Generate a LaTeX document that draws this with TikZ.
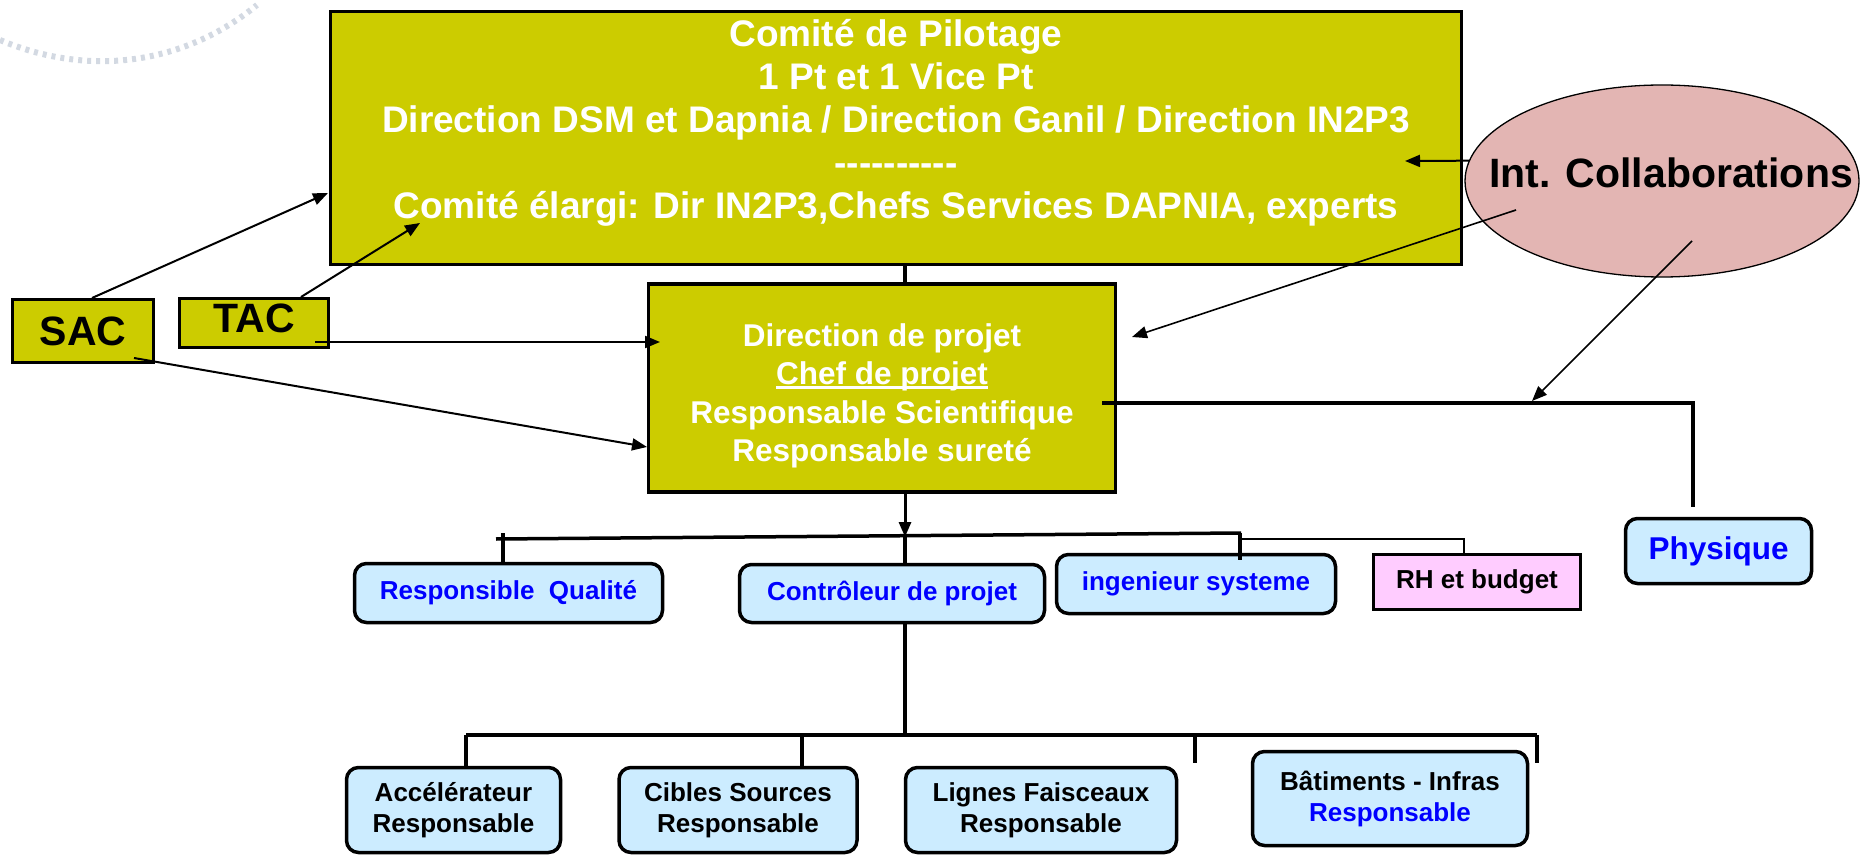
\documentclass[tikz,border=0pt]{standalone}
\usepackage{fontspec}
\setmainfont{Liberation Sans}
\usetikzlibrary{arrows.meta,shapes.geometric}
\definecolor{olivey}{HTML}{CCCC00}
\definecolor{lblue}{HTML}{CCECFF}
\definecolor{pinkbox}{HTML}{FFCCFF}
\definecolor{ellcol}{HTML}{E3B5B3}
\definecolor{textblue}{HTML}{0000FF}
\definecolor{swirl}{HTML}{D3D9E2}
\newcommand{\fsz}[2]{\fontsize{#1}{#2}\selectfont\bfseries}
\newcommand{\hy}{-\kern0pt}
\newcommand{\myul}[1]{\setbox0\hbox{#1}\rlap{\rule[-4pt]{\wd0}{2.5pt}}\box0}
\tikzset{
  olivebox/.style={draw=black, line width=3.5pt, fill=olivey, inner sep=0pt},
  smallbox/.style={draw=black, line width=3pt, fill=olivey, inner sep=0pt, text=black, font=\fsz{41}{45}},
  bluebox/.style={draw=black, line width=3.5pt, rounded corners=12pt, fill=lblue, inner sep=0pt, align=center, text=textblue, font=\fsz{26}{31}},
  blackbluebox/.style={bluebox, text=black},
  arr/.style={-{Triangle[length=15pt,width=12pt]}, line width=2pt},
  orgline/.style={line width=3.5pt},
  thinline/.style={line width=1.6pt},
}
\begin{document}
\begin{tikzpicture}[x=1pt,y=-1pt]
\useasboundingbox (0,0) rectangle (1862,858);
% faint background swirl
\draw[swirl, line width=6pt, dash pattern=on 4pt off 5pt] (0,40) .. controls (90,78) and (185,64) .. (257,5);

% top committee box
\node[olivebox, minimum width=1131pt, minimum height=253pt] (com) at (896,138) {};
\node[align=center, text=white, font=\fsz{37}{43}] (comtxt) at (896,123)
  {Comité de Pilotage\\1 Pt et 1 Vice Pt\\Direction DSM et Dapnia / Direction Ganil / Direction IN2P3\\\hy\hy\hy\hy\hy\hy\hy\hy\hy\hy\\Comité élargi: Dir IN2P3,Chefs Services DAPNIA, experts};

% international collaborations
\node[draw=black, line width=1.3pt, fill=ellcol, ellipse, minimum width=394pt, minimum height=192pt, inner sep=0pt] (ic) at (1662,181) {};
\node[anchor=base, inner sep=0pt, font=\fsz{41}{45}] (ictxt) at (1671,188) {Int. Collaborations};

% direction box
\node[olivebox, minimum width=467pt, minimum height=208pt, align=center, text=white, font=\fsz{31.5}{38.5}] (dir) at (882,388) {};
\node[align=center, text=white, font=\fsz{31.5}{38.5}] (dirtxt) at (882,396)
  {Direction de projet\\\myul{Chef de projet}\\Responsable Scientifique\\Responsable sureté};

% SAC / TAC
\node[smallbox, minimum width=141pt, minimum height=63pt] (sac) at (83,331) {SAC};
\node[smallbox, minimum width=149pt, minimum height=49pt, text depth=10pt] (tac) at (254,323) {TAC};

% second row
\node[bluebox, minimum width=308pt, minimum height=59pt] (qual) at (508.5,593) {Responsible\ \ Qualité};
\node[bluebox, minimum width=305pt, minimum height=58pt] (ctrl) at (892,593.5) {Contrôleur de projet};
\node[bluebox, minimum width=279pt, minimum height=59pt] (ing) at (1196,584) {ingenieur systeme};
\node[draw=black, line width=3.5pt, fill=pinkbox, inner sep=0pt, minimum width=207pt, minimum height=55pt, font=\fsz{26}{31}] (rh) at (1477,582) {RH et budget};
\node[bluebox, minimum width=186pt, minimum height=65pt, font=\fsz{31.5}{36}] (phys) at (1718.5,551) {Physique};

% bottom row
\node[blackbluebox, minimum width=214pt, minimum height=85pt] (acc) at (453.5,810) {Accélérateur\\Responsable};
\node[blackbluebox, minimum width=238pt, minimum height=85pt] (cib) at (738,810) {Cibles Sources\\Responsable};
\node[blackbluebox, minimum width=271pt, minimum height=85pt] (lig) at (1041,810) {Lignes Faisceaux\\Responsable};
\node[blackbluebox, minimum width=275pt, minimum height=94pt] (bat) at (1390,798.5) {Bâtiments - Infras\\\textcolor{textblue}{Responsable}};

% coordinates
\coordinate (comIC) at (1405,161);
\coordinate (icA) at (1516,210);
\coordinate (dirIC) at (1132,337);
\coordinate (icB) at (1692,241);
\coordinate (physJ) at (1532,401);
\coordinate (dirR) at (1102,403);
\coordinate (physC) at (1693,403);
\coordinate (physT) at (1693,507);
\coordinate (sacT) at (92,298);
\coordinate (comSAC) at (328,193);
\coordinate (tacT) at (301,297);
\coordinate (comTAC) at (420,223);
\coordinate (tacR) at (315,342);
\coordinate (dirTAC) at (660,342);
\coordinate (sacR) at (134,358);
\coordinate (dirSAC) at (647,447);
\coordinate (busL) at (496,539);
\coordinate (busR) at (1241,533);
\coordinate (busM) at (905,537);
\coordinate (qualT) at (503,533);
\coordinate (ingJ) at (1240,533);
\coordinate (ingT) at (1240,560);
\coordinate (rhJ) at (1238,539);
\coordinate (rhC) at (1464,539);
\coordinate (bus2M) at (905,735);
\coordinate (bus2L) at (466,735);
\coordinate (bus2R) at (1537,735);
\coordinate (cibJ) at (802,735);
\coordinate (ligJ) at (1195,735);

% connectors
\draw[orgline] (com.south -| dir.north) ++(23,0) -- ++(0,16);
\draw[arr] (ic.174) -- (comIC);
\draw[arr, line width=1.6pt] (icA) -- (dirIC);
\draw[arr, line width=1.6pt] (icB) -- (physJ);
\draw[orgline] (dirR) -- (physC) -- (physT);
\draw[arr] (sacT) -- (comSAC);
\draw[arr] (tacT) -- (comTAC);
\draw[arr] (tacR) -- (dirTAC);
\draw[arr] (sacR) -- (dirSAC);

\draw[arr, line width=3pt] (dir.south -| busM) -- (busM);
\draw[orgline] (busL) -- (busR);
\draw[orgline] (qualT) -- (qual.north -| qualT);
\draw[orgline] (busM) -- (ctrl.north -| busM);
\draw[orgline] (ingJ) -- (ingT);
\draw[thinline] (rhJ) -- (rhC) -- (rh.north -| rhC);
\draw[orgline] (ctrl.south -| bus2M) -- (bus2M);
\draw[orgline] (bus2L) -- (bus2R);
\draw[orgline] (bus2L) -- (acc.north -| bus2L);
\draw[orgline] (cibJ) -- (cib.north -| cibJ);
\draw[orgline] (ligJ) -- ++(0,28);
\draw[orgline] (bus2R) -- ++(0,28);
\end{tikzpicture}
\end{document}
